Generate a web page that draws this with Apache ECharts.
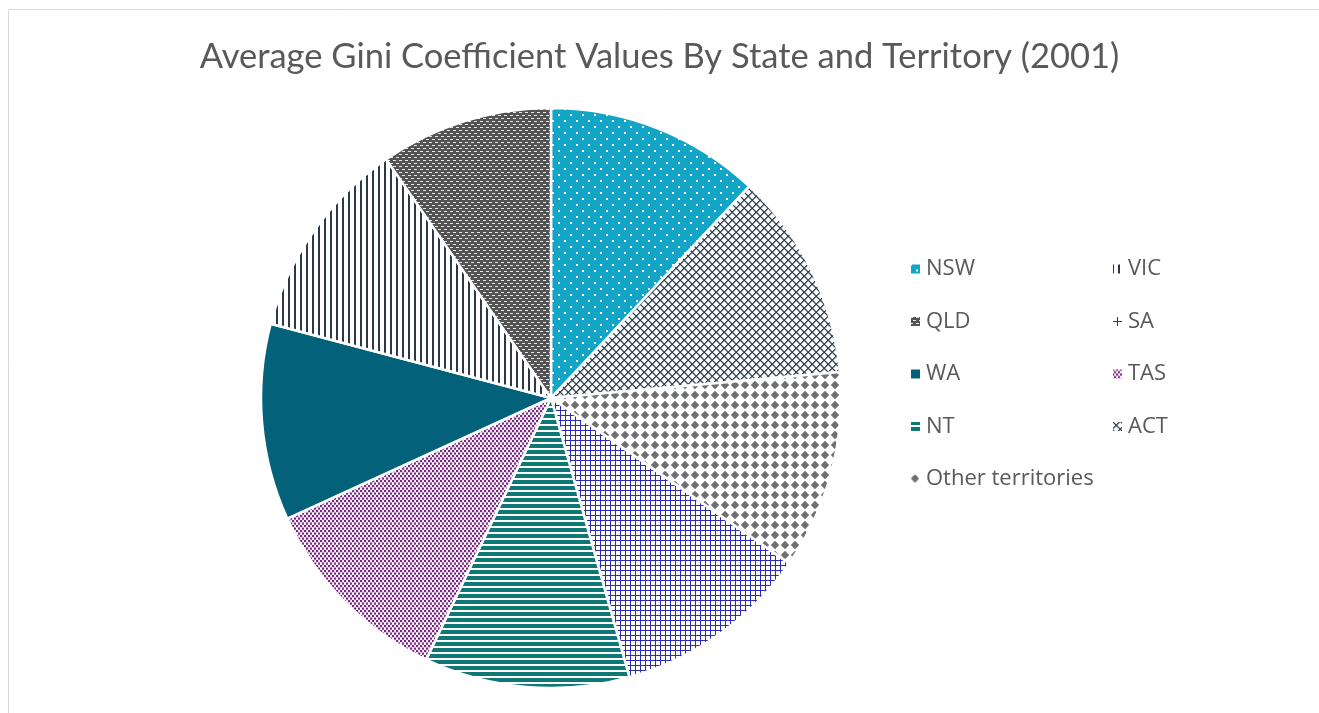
<!DOCTYPE html>
<html>
<head>
<meta charset="utf-8">
<script src="https://cdn.jsdelivr.net/npm/echarts@6/dist/echarts.min.js"></script>
<style>
  html, body { margin: 0; padding: 0; background: #fff; }
  #main { width: 1319px; height: 713px; }
</style>
</head>
<body>
<div id="main"></div>
<script>
// slices clockwise from 12 o'clock, as drawn in the picture
var states = ['NSW', 'ACT', 'Other territories', 'SA', 'NT', 'TAS', 'WA', 'VIC', 'QLD'];
var giniValues = [0.334, 0.323, 0.309, 0.306, 0.319, 0.309, 0.305, 0.314, 0.268];
// legend is laid out in two columns
var legendLeft = ['NSW', 'QLD', 'WA', 'NT', 'Other territories'];
var legendRight = ['VIC', 'SA', 'TAS', 'ACT'];

// small canvas tiles used as fill patterns
function tile(w, h, bg, draw) {
  var c = document.createElement('canvas');
  c.width = w; c.height = h;
  var g = c.getContext('2d');
  g.fillStyle = bg;
  g.fillRect(0, 0, w, h);
  draw(g);
  return { image: c, repeat: 'repeat' };
}

var fills = {
  'NSW': tile(12, 12, '#12a5c8', function (g) {
    g.fillStyle = '#fff';
    g.fillRect(0, 0, 2, 2);
    g.fillRect(6, 6, 2, 2);
  }),
  'ACT': tile(8, 8, '#fff', function (g) {
    g.fillStyle = '#2f4152';
    for (var i = 0; i < 8; i++) {
      g.fillRect(i, i, 1.4, 1.4);
      g.fillRect(7 - i, i, 1.4, 1.4);
    }
  }),
  'Other territories': tile(10, 10, '#fff', function (g) {
    g.fillStyle = '#6e6f71';
    g.beginPath();
    g.moveTo(5, 0.8); g.lineTo(9.2, 5); g.lineTo(5, 9.2); g.lineTo(0.8, 5);
    g.closePath();
    g.fill();
  }),
  'SA': tile(5, 5, '#fff', function (g) {
    g.fillStyle = '#2b2bb5';
    g.fillRect(0, 0, 5, 1);
    g.fillRect(0, 0, 1, 5);
  }),
  'NT': tile(1, 6, '#fff', function (g) {
    g.fillStyle = '#0e7874';
    g.fillRect(0, 0, 1, 4);
  }),
  'TAS': tile(8, 5, '#fff', function (g) {
    g.fillStyle = '#772a80';
    g.fillRect(0, 0, 2.2, 2.2);
    g.fillRect(4, 0, 2.2, 2.2);
    g.fillRect(2, 2.5, 2.2, 2.2);
    g.fillRect(6, 2.5, 2.2, 2.2);
  }),
  'WA': '#03627a',
  'VIC': tile(6, 1, '#fff', function (g) {
    g.fillStyle = '#2c3846';
    g.fillRect(0, 0, 2, 1);
  }),
  'QLD': tile(6, 6, '#535353', function (g) {
    g.fillStyle = '#e6e6e6';
    g.fillRect(0, 1, 3, 1);
    g.fillRect(3, 4, 3, 1);
  })
};

var pieData = states.map(function (s, i) {
  return { name: s, value: giniValues[i], itemStyle: { color: fills[s] } };
});

var legendBase = {
  orient: 'vertical',
  top: 253,
  icon: 'rect',
  itemWidth: 11,
  itemHeight: 11,
  itemGap: 30.5,
  selectedMode: false,
  textStyle: { fontFamily: 'Open Sans', fontSize: 22, color: '#595959', lineHeight: 20 }
};

var chart = echarts.init(document.getElementById('main'));
chart.setOption({
  backgroundColor: '#fff',
  animation: false,
  title: {
    text: 'Average Gini Coefficient Values By State and Territory (2001)',
    left: 'center',
    top: 34,
    textStyle: { fontFamily: 'Lato', fontSize: 34.5, fontWeight: 'normal', color: '#595959' }
  },
  graphic: [{
    type: 'rect',
    shape: { x: 8.5, y: 9.5, width: 1400, height: 800 },
    style: { fill: 'none', stroke: '#d9d9d9', lineWidth: 1 }
  }],
  legend: [
    Object.assign({ left: 904, data: legendLeft }, legendBase),
    Object.assign({ left: 1106, data: legendRight }, legendBase)
  ],
  series: [{
    type: 'pie',
    center: [551, 398],
    radius: 290,
    startAngle: 90,
    clockwise: true,
    label: { show: false },
    labelLine: { show: false },
    emphasis: { disabled: true },
    itemStyle: { borderColor: '#fff', borderWidth: 2.5 },
    data: pieData
  }]
});
</script>
</body>
</html>
